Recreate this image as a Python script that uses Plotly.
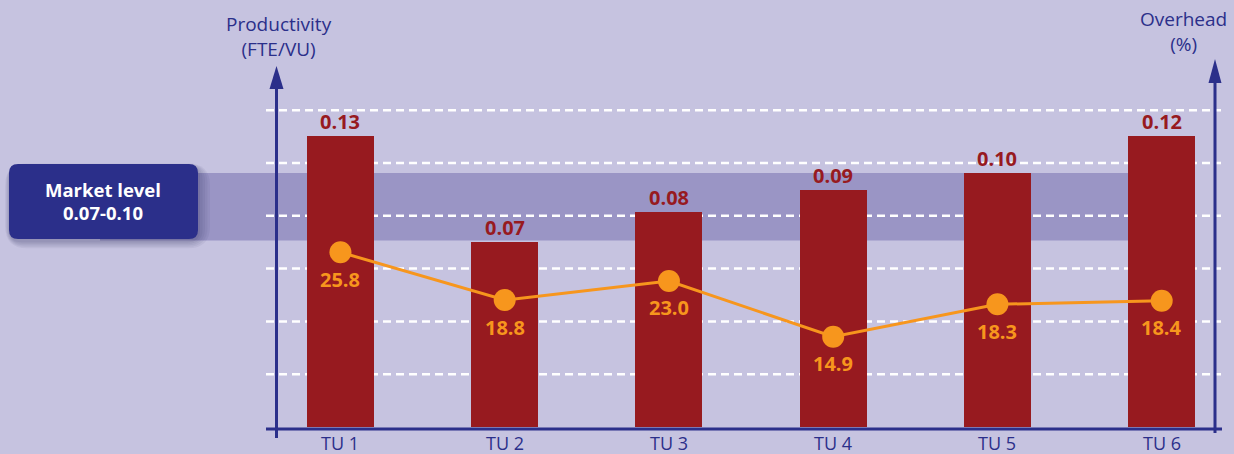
import plotly.graph_objects as go

# ---- data ----
units = ["TU 1", "TU 2", "TU 3", "TU 4", "TU 5", "TU 6"]
productivity_labels = ["0.13", "0.07", "0.08", "0.09", "0.10", "0.12"]
productivity_drawn = [0.1102, 0.0700, 0.0814, 0.0898, 0.0962, 0.1102]   # bar heights as drawn
overhead_labels = ["25.8", "18.8", "23.0", "14.9", "18.3", "18.4"]
overhead_drawn = [25.96, 19.14, 21.86, 13.90, 18.53, 19.04]             # point heights as drawn
gridlines = [0.02, 0.04, 0.06, 0.08, 0.10, 0.12]
market_band = [0.0706, 0.0962]
market_text = ["Market level", "0.07-0.10"]
axis_titles = ["Productivity<br>(FTE/VU)", "Overhead<br>(%)"]

W, H = 1234, 454
BG = "#c6c3e0"
BAND = "#9a95c5"
NAVY = "#2b2f8a"
RED = "#971a1f"
ORANGE = "#f7961d"
FONT = "Open Sans"

def px(x):
    return x / W

def py(y):
    return 1 - y / H

x0, step = 340.45, 164.25
xs = list(range(len(units)))
xrange_ = [(0 - x0) / step, (W - x0) / step]
base_px, ppu = 427.0, 2640.0
yrange_ = [(base_px - H) / ppu, base_px / ppu]
y2_zero, y2_ppu = 434.0, 7.0
y2range_ = [(y2_zero - H) / y2_ppu, y2_zero / y2_ppu]

fig = go.Figure()
fig.add_trace(go.Bar(x=xs, y=productivity_drawn, width=67 / step,
                     marker=dict(color=RED, line=dict(width=0)), hoverinfo="skip"))
fig.add_trace(go.Scatter(x=xs, y=overhead_drawn, yaxis="y2", mode="lines+markers",
                         line=dict(color=ORANGE, width=3),
                         marker=dict(size=22, color=ORANGE), hoverinfo="skip"))

shapes = []
# market band
shapes.append(dict(type="rect", xref="paper", yref="y", x0=px(100), x1=px(1150),
                   y0=market_band[0], y1=market_band[1], fillcolor=BAND,
                   line=dict(width=0), layer="below"))
# gridlines
for g in gridlines:
    shapes.append(dict(type="line", xref="paper", yref="y", x0=px(266), x1=px(1221),
                       y0=g, y1=g, line=dict(color="white", width=2.5, dash="8px,5px"),
                       layer="below"))

def rrect(l, t, r, b, rad):
    pts = [
        (l + rad, t), (r - rad, t), ("Q", r, t, r, t + rad), (r, b - rad),
        ("Q", r, b, r - rad, b), (l + rad, b), ("Q", l, b, l, b - rad),
        (l, t + rad), ("Q", l, t, l + rad, t)]
    d = "M %f,%f" % (px(pts[0][0]), py(pts[0][1]))
    for p in pts[1:]:
        if p[0] == "Q":
            d += " Q %f,%f %f,%f" % (px(p[1]), py(p[2]), px(p[3]), py(p[4]))
        else:
            d += " L %f,%f" % (px(p[0]), py(p[1]))
    return d + " Z"

# box shadow
for i, op in enumerate([0.06, 0.06, 0.06, 0.07, 0.08]):
    g = 12 - i * 2.5
    shapes.append(dict(type="path", xref="paper", yref="paper",
                       path=rrect(10 - g * 0.4, 166 - g * 0.2, 198 + g, 241 + g * 0.6, 10 + g),
                       fillcolor="rgba(40,40,90,%f)" % op, line=dict(width=0), layer="below"))
# box
shapes.append(dict(type="path", xref="paper", yref="paper",
                   path=rrect(9, 164, 198, 239, 9), fillcolor=NAVY,
                   line=dict(width=0), layer="above"))

# axes lines
shapes.append(dict(type="line", xref="paper", yref="paper", x0=px(276.5), x1=px(276.5),
                   y0=py(438), y1=py(82), line=dict(color=NAVY, width=3)))
shapes.append(dict(type="line", xref="paper", yref="paper", x0=px(1215), x1=px(1215),
                   y0=py(433), y1=py(76), line=dict(color=NAVY, width=3)))
shapes.append(dict(type="line", xref="paper", yref="paper", x0=px(266), x1=px(1222),
                   y0=py(429), y1=py(429), line=dict(color=NAVY, width=3)))
# arrow heads
def tri(cx, tip, base, hw):
    return "M %f,%f L %f,%f L %f,%f Z" % (px(cx), py(tip), px(cx - hw), py(base),
                                          px(cx + hw), py(base))
shapes.append(dict(type="path", xref="paper", yref="paper", path=tri(276.5, 66, 89, 7),
                   fillcolor=NAVY, line=dict(width=0)))
shapes.append(dict(type="path", xref="paper", yref="paper", path=tri(1215, 59, 83, 6.5),
                   fillcolor=NAVY, line=dict(width=0)))

ann = []
for i, (v, lab) in enumerate(zip(productivity_drawn, productivity_labels)):
    ann.append(dict(x=i, y=v, xref="x", yref="y", text="<b>%s</b>" % lab, showarrow=False,
                    xanchor="center", yanchor="bottom", yshift=-1,
                    font=dict(family=FONT, size=20, color=RED)))
for i, (v, lab) in enumerate(zip(overhead_drawn, overhead_labels)):
    ann.append(dict(x=i, y=v, xref="x", yref="y2", text="<b>%s</b>" % lab, showarrow=False,
                    xanchor="center", yanchor="middle", yshift=-27,
                    font=dict(family=FONT, size=20, color=ORANGE)))
for i, u in enumerate(units):
    ann.append(dict(x=i, y=py(443), xref="x", yref="paper", text=u, showarrow=False,
                    xanchor="center", yanchor="middle",
                    font=dict(family=FONT, size=18, color=NAVY)))
# axis titles
for txt, x, y in [(axis_titles[0], 279, 36.5), (axis_titles[1], 1183, 32)]:
    ann.append(dict(x=px(x), y=py(y), xref="paper", yref="paper", text=txt, showarrow=False,
                    xanchor="center", yanchor="middle", align="center",
                    font=dict(family=FONT, size=19, color=NAVY)))
# market text
ann.append(dict(x=px(103), y=py(189), xref="paper", yref="paper",
                text="<b>%s</b>" % market_text[0], showarrow=False,
                xanchor="center", yanchor="middle",
                font=dict(family=FONT, size=18.5, color="white")))
ann.append(dict(x=px(103), y=py(212), xref="paper", yref="paper",
                text="<b>%s</b>" % market_text[1], showarrow=False,
                xanchor="center", yanchor="middle",
                font=dict(family=FONT, size=18.5, color="white")))

fig.update_layout(
    width=W, height=H, margin=dict(l=0, r=0, t=0, b=0),
    paper_bgcolor=BG, plot_bgcolor=BG, showlegend=False,
    xaxis=dict(range=xrange_, visible=False, fixedrange=True),
    yaxis=dict(range=yrange_, visible=False, fixedrange=True),
    yaxis2=dict(range=y2range_, visible=False, overlaying="y", side="right", fixedrange=True),
    shapes=shapes, annotations=ann, bargap=0,
)
fig.write_html("out.html", config={"displayModeBar": False},
               post_script="document.body.style.margin='0';document.body.style.overflow='hidden';")
